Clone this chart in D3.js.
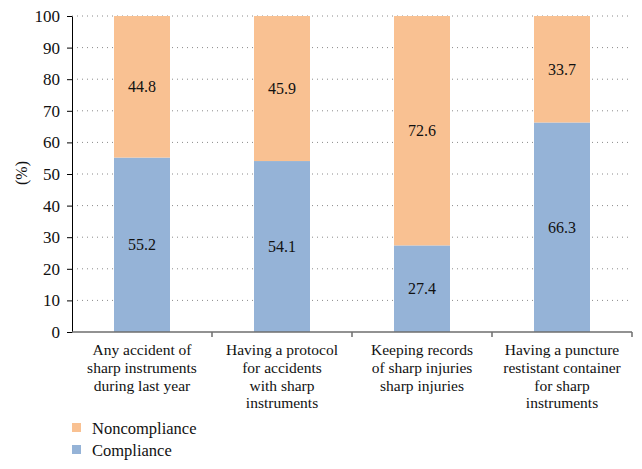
<!DOCTYPE html>
<html><head><meta charset="utf-8">
<script src="https://cdn.jsdelivr.net/npm/d3@7"></script>
<style>body{margin:0;background:#fff}svg{display:block}</style>
</head><body><svg id="c" width="642" height="469"></svg>
<script>
const categories = [
  ["Any accident of","sharp instruments","during last year"],
  ["Having a protocol","for accidents","with sharp","instruments"],
  ["Keeping records","of sharp injuries","sharp injuries"],
  ["Having a puncture","restistant container","for sharp","instruments"]
];
const compliance = [55.2, 54.1, 27.4, 66.3];
const noncompliance = [44.8, 45.9, 72.6, 33.7];
const yTicks = [0,10,20,30,40,50,60,70,80,90,100];
const seriesNames = ["Noncompliance","Compliance"];
const colors = {Compliance:"#95B3D7", Noncompliance:"#F9C192"};
const FF = "'Liberation Serif', 'Times New Roman', serif";

const svg = d3.select("#c");
const m = {l:72, r:632, t:16, b:332};
const x = d3.scaleBand().domain(d3.range(categories.length)).range([m.l,m.r]).paddingInner(0.6).paddingOuter(0.3);
const xb = d3.scaleBand().domain(d3.range(categories.length)).range([m.l,m.r]);
const y = d3.scaleLinear().domain([0,100]).range([m.b,m.t]);

// gridlines
svg.append("g").selectAll("line").data(yTicks.filter(d=>d>0)).join("line")
  .attr("x1",m.l).attr("x2",m.r).attr("y1",d=>y(d)).attr("y2",d=>y(d))
  .attr("stroke","#8a8a8a").attr("stroke-width",1).attr("stroke-dasharray","1,4");

// bars
const stack = categories.map((c,i)=>({i, comp:compliance[i], non:noncompliance[i]}));
const g = svg.append("g");
g.selectAll("rect.comp").data(stack).join("rect").attr("class","comp")
  .attr("x",d=>x(d.i)).attr("width",x.bandwidth())
  .attr("y",d=>y(d.comp)).attr("height",d=>y(0)-y(d.comp)).attr("fill",colors.Compliance);
g.selectAll("rect.non").data(stack).join("rect").attr("class","non")
  .attr("x",d=>x(d.i)).attr("width",x.bandwidth())
  .attr("y",d=>y(d.comp+d.non)).attr("height",d=>y(d.comp)-y(d.comp+d.non)).attr("fill",colors.Noncompliance);
g.selectAll("text.vc").data(stack).join("text").attr("class","vc")
  .attr("x",d=>x(d.i)+x.bandwidth()/2).attr("y",d=>y(d.comp/2)).attr("dy","0.35em")
  .attr("text-anchor","middle").style("font-size","16px").style("font-family",FF).attr("fill","#111").text(d=>d.comp.toFixed(1));
g.selectAll("text.vn").data(stack).join("text").attr("class","vn")
  .attr("x",d=>x(d.i)+x.bandwidth()/2).attr("y",d=>y(d.comp+d.non/2)).attr("dy","0.35em")
  .attr("text-anchor","middle").style("font-size","16px").style("font-family",FF).attr("fill","#111").text(d=>d.non.toFixed(1));

// y axis
const ya = svg.append("g").attr("transform",`translate(${m.l},0)`)
  .call(d3.axisLeft(y).tickValues(yTicks).tickSize(5).tickPadding(7).tickSizeOuter(0));
ya.select(".domain").attr("stroke","#000");
ya.selectAll(".tick line").attr("stroke","#000");
ya.selectAll("text").attr("fill","#111").style("font-family",FF).style("font-size","17px");

// x axis
const xa = svg.append("g").attr("transform",`translate(0,${m.b})`);
xa.append("line").attr("x1",m.l).attr("x2",m.r).attr("stroke","#6e6e6e").attr("stroke-width",1.5);
xa.selectAll("line.t").data(d3.range(categories.length)).join("line").attr("class","t")
  .attr("x1",d=>xb(d)+xb.bandwidth()).attr("x2",d=>xb(d)+xb.bandwidth()).attr("y1",0).attr("y2",5)
  .attr("stroke","#6e6e6e").attr("stroke-width",1.5);
categories.forEach((lines,i)=>{
  xa.selectAll(null).data(lines).join("text")
    .attr("text-anchor","middle").style("font-size","15.5px").style("font-family",FF).attr("fill","#111")
    .attr("x",xb(i)+xb.bandwidth()/2).attr("y",(d,j)=>23+j*17.8).text(d=>d);
});

// y label
svg.append("text").attr("transform",`translate(21,173) rotate(-90)`)
  .attr("text-anchor","middle").attr("dy","0.35em").style("font-size","16px").style("font-family",FF).attr("fill","#111").text("(%)");

// legend
const lg = svg.append("g").selectAll("g").data(seriesNames).join("g")
  .attr("transform",(d,i)=>`translate(72,${423+i*22})`);
lg.append("rect").attr("width",9).attr("height",9).attr("fill",d=>colors[d]);
lg.append("text").attr("x",20).attr("y",5).attr("dy","0.35em").style("font-size","16.5px").style("font-family",FF).attr("fill","#111").text(d=>d);
</script></body></html>
